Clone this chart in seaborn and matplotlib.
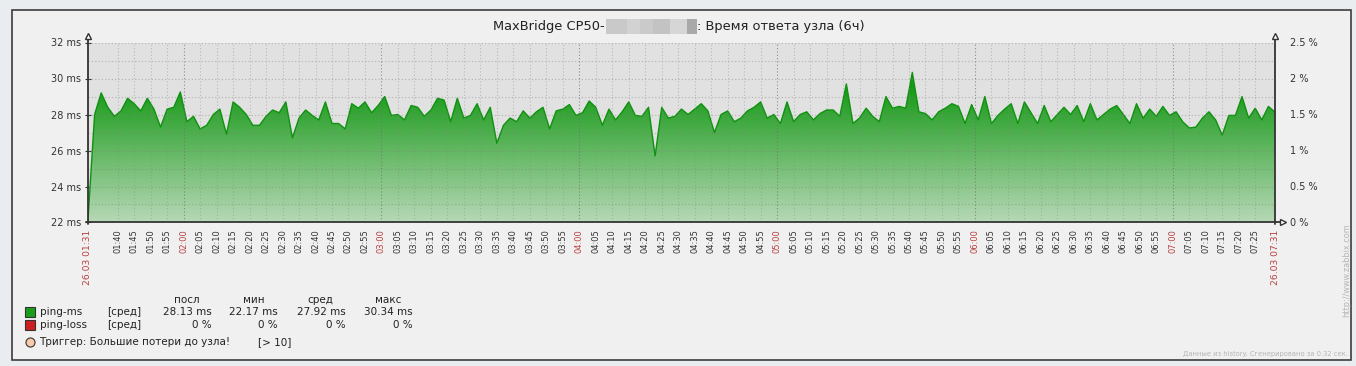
import numpy as np
import pandas as pd
import matplotlib
matplotlib.use("Agg")
import matplotlib.pyplot as plt
import seaborn as sns
from matplotlib.colors import LinearSegmentedColormap
from matplotlib.patches import Rectangle, PathPatch
from matplotlib.lines import Line2D

# ---------------- data ----------------
minutes = list(range(0, 361, 2))  # minutes after 26.03 01:31
ping_ms = [
    22.17, 28.0, 29.2, 28.4, 27.9, 28.2, 28.9, 28.6, 28.2, 28.9,
    28.3, 27.3, 28.3, 28.4, 29.25, 27.6, 27.9, 27.2, 27.4, 28.0,
    28.3, 26.9, 28.7, 28.4, 28.0, 27.4, 27.4, 27.9, 28.25, 28.1,
    28.7, 26.7, 27.8, 28.25, 27.95, 27.7, 28.7, 27.5, 27.5, 27.2,
    28.6, 28.35, 28.7, 28.1, 28.5, 29.0, 27.95, 28.0, 27.7, 28.5,
    28.4, 27.9, 28.25, 28.9, 28.8, 27.6, 28.9, 27.8, 27.95, 28.6,
    27.7, 28.4, 26.4, 27.4, 27.8, 27.6, 28.2, 27.8, 28.15, 28.4,
    27.2, 28.2, 28.3, 28.55, 27.95, 28.1, 28.75, 28.4, 27.4, 28.3,
    27.7, 28.15, 28.7, 27.95, 27.9, 28.4, 25.7, 28.4, 27.8, 27.9,
    28.3, 28.0, 28.3, 28.6, 28.2, 27.0, 28.0, 28.2, 27.6, 27.8,
    28.2, 28.4, 28.7, 27.8, 28.0, 27.5, 28.7, 27.6, 28.0, 28.15,
    27.7, 28.05, 28.25, 28.25, 27.9, 29.7, 27.5, 27.8, 28.35, 27.9,
    27.6, 29.0, 28.35, 28.45, 28.35, 30.34, 28.15, 28.05, 27.7, 28.15,
    28.35, 28.6, 28.45, 27.5, 28.55, 27.7, 29.0, 27.5, 27.95, 28.3,
    28.6, 27.5, 28.7, 28.1, 27.5, 28.5, 27.6, 28.0, 28.4, 28.0,
    28.5, 27.6, 28.6, 27.7, 28.0, 28.3, 28.5, 28.0, 27.5, 28.6,
    27.8, 28.3, 27.9, 28.45, 27.95, 28.15, 27.6, 27.25, 27.3, 27.8,
    28.15, 27.7, 26.85, 27.95, 27.95, 29.0, 27.8, 28.35, 27.7, 28.45,
    28.13,
]

left_ticks = [22, 24, 26, 28, 30, 32]
left_labels = ["22 ms", "24 ms", "26 ms", "28 ms", "30 ms", "32 ms"]
right_ticks = [0, 0.5, 1, 1.5, 2, 2.5]
right_labels = ["0 %", "0.5 %", "1 %", "1.5 %", "2 %", "2.5 %"]

# x tick labels every 5 min from 01:40 to 07:25
tick_minutes = list(range(9, 355, 5))
tick_labels = ["%02d:%02d" % ((91 + m) // 60, (91 + m) % 60) for m in tick_minutes]
edge_minutes = [0, 360]
edge_labels = ["26.03 01:31", "26.03 07:31"]

title_left = "MaxBridge CP50-"
title_right = ": Время ответа узла (6ч)"

legend_header = ["посл", "мин", "сред", "макс"]
legend_names = ["ping-ms", "ping-loss"]
legend_func = ["[сред]", "[сред]"]
legend_values = [["28.13 ms", "22.17 ms", "27.92 ms", "30.34 ms"],
                 ["0 %", "0 %", "0 %", "0 %"]]
legend_colors = ["#1a9e1a", "#cc2020"]
trigger_text = "Триггер: Большие потери до узла!"
trigger_cond = "[> 10]"
footer_text = "Данные из history. Сгенерировано за 0.32 сек."
watermark = "http://www.zabbix.com"

# ---------------- figure ----------------
W, H = 1356, 366
sns.set_style("white")
plt.rcParams["font.family"] = ["DejaVu Sans"]
fig = plt.figure(figsize=(W / 100, H / 100), dpi=100)
fig.patch.set_facecolor("#e9edf0")


def fx(x):
    return x / W


def fy(y):
    return 1 - y / H


panel = Rectangle((fx(12), fy(360)), fx(1351) - fx(12), fy(10) - fy(360),
                  transform=fig.transFigure, facecolor="#f0f0f0",
                  edgecolor="#3c3c3c", lw=1.2, zorder=-10)
fig.add_artist(panel)

X0, X1, Y0, Y1 = 88, 1275, 42.5, 222.5
ax = fig.add_axes([fx(X0), fy(Y1), fx(X1) - fx(X0), fy(Y0) - fy(Y1)])
ax.set_facecolor("#e1e1e1")

df = pd.DataFrame({"minute": minutes, "ping_ms": ping_ms})

# gradient area fill
fill = ax.fill_between(df["minute"], df["ping_ms"], 22, facecolor="none",
                       edgecolor="none")
clip = PathPatch(fill.get_paths()[0], transform=ax.transData,
                 facecolor="none", edgecolor="none")
ax.add_patch(clip)
yy = np.linspace(22, 32, 300)
grad = np.clip((yy - 22) / 7.5, 0, 1).reshape(-1, 1)
cmap = LinearSegmentedColormap.from_list("g", ["#b6d8b6", "#179a17"])
img = ax.imshow(grad, extent=[0, 360, 22, 32], origin="lower", aspect="auto",
                cmap=cmap, vmin=0, vmax=1, zorder=2)
img.set_clip_path(clip)

sns.lineplot(data=df, x="minute", y="ping_ms", ax=ax, color="#0f920f",
             lw=1.0, zorder=3, legend=False)

# grid
for v in range(23, 33):
    ax.axhline(v, color="#808080", alpha=0.5, lw=0.8, ls=(0, (1, 2)), zorder=4)
for m in tick_minutes:
    hour = (91 + m) % 60 == 0
    ax.axvline(m, color="#707070" if hour else "#8a8a8a",
               alpha=0.75 if hour else 0.45, lw=0.8, ls=(0, (1, 2)), zorder=4)

ax.set_xlim(0, 360)
ax.set_ylim(22, 32)
for s in ax.spines.values():
    s.set_visible(False)
ax.set_xlabel("")
ax.set_ylabel("")

ax.set_yticks(left_ticks)
ax.set_yticklabels(left_labels)
ax.tick_params(axis="y", length=4, direction="inout", color="#333333",
               labelsize=7, labelcolor="#333333", pad=3, left=True)

all_ticks = edge_minutes[:1] + tick_minutes + edge_minutes[1:]
all_labels = edge_labels[:1] + tick_labels + edge_labels[1:]
ax.set_xticks(all_ticks)
ax.set_xticklabels(all_labels, rotation=90)
ax.tick_params(axis="x", length=0, pad=5, labelsize=6, labelcolor="#333333")
for lab in ax.get_xticklabels():
    t = lab.get_text()
    if t in edge_labels:
        lab.set_color("#b84040")
        lab.set_fontsize(6.6)
    elif t.endswith(":00"):
        lab.set_color("#b84040")

ax2 = ax.twinx()
ax2.set_ylim(0, 2.5)
ax2.set_yticks(right_ticks)
ax2.set_yticklabels(right_labels)
ax2.tick_params(axis="y", length=0, pad=11, labelsize=7, labelcolor="#333333")
for s in ax2.spines.values():
    s.set_visible(False)

# axis lines with arrows
axis_col = "#333333"
fig.add_artist(Line2D([fx(X0), fx(X0)], [fy(Y1 + 2), fy(37)], color=axis_col,
                      lw=1.3, transform=fig.transFigure))
fig.add_artist(Line2D([fx(X1), fx(X1)], [fy(Y1 + 2), fy(37)], color=axis_col,
                      lw=1.3, transform=fig.transFigure))
fig.add_artist(Line2D([fx(X0 - 2), fx(1280)], [fy(Y1), fy(Y1)], color=axis_col,
                      lw=1.3, transform=fig.transFigure))
for (px, py, mk) in [(X0, 35.5, "^"), (X1, 35.5, "^"), (1282.5, Y1, ">")]:
    fig.add_artist(Line2D([fx(px)], [fy(py)], marker=mk, markersize=5,
                          mfc="white", mec=axis_col, mew=1.0,
                          transform=fig.transFigure))

# title with masked part
fig.text(fx(605), fy(26.5), title_left, ha="right", va="center",
         fontsize=9.4, color="#222222")
for (a, b, c) in [(606, 627, "#c9c9c9"), (627, 640, "#d2d2d2"),
                  (640, 653, "#cacaca"), (653, 670, "#c3c3c3"),
                  (670, 687, "#d6d6d6"), (687, 697, "#a9a9a9")]:
    fig.add_artist(Rectangle((fx(a), fy(33.5)), fx(b) - fx(a), fy(19) - fy(33.5),
                             transform=fig.transFigure, facecolor=c,
                             edgecolor="none"))
fig.text(fx(697), fy(26.5), title_right, ha="left", va="center",
         fontsize=9.4, color="#222222")

# legend
tc = "#222222"
fs = 7.5
for txt, cx in zip(legend_header, [187, 254, 320, 388]):
    fig.text(fx(cx), fy(300), txt, ha="center", va="center", fontsize=fs, color=tc)
for i, (ry, name, fn, vals, col) in enumerate(
        zip([312, 325], legend_names, legend_func, legend_values, legend_colors)):
    fig.add_artist(Line2D([fx(30)], [fy(ry)], marker="s", markersize=7.2,
                          mfc=col, mec="#333333", mew=0.8,
                          transform=fig.transFigure))
    fig.text(fx(40), fy(ry), name, ha="left", va="center", fontsize=fs, color=tc)
    fig.text(fx(107), fy(ry), fn, ha="left", va="center", fontsize=fs, color=tc)
    for v, rx in zip(vals, [212, 278, 346, 413]):
        fig.text(fx(rx), fy(ry), v, ha="right", va="center", fontsize=fs, color=tc)

fig.add_artist(Line2D([fx(29.5)], [fy(342)], marker="o", markersize=6.5,
                      mfc="#f9c9a9", mec="#444444", mew=0.9,
                      transform=fig.transFigure))
fig.text(fx(39), fy(342), trigger_text, ha="left", va="center", fontsize=fs, color=tc)
fig.text(fx(258), fy(342), trigger_cond, ha="left", va="center", fontsize=fs, color=tc)

fig.text(fx(1348), fy(354), footer_text, ha="right", va="center",
         fontsize=4.9, color="#b5b5b5")
fig.text(fx(1347), fy(270), watermark, ha="center", va="center", rotation=90,
         fontsize=5.9, color="#b5b5b5")

fig.savefig("out.png", dpi=100, facecolor=fig.get_facecolor())
